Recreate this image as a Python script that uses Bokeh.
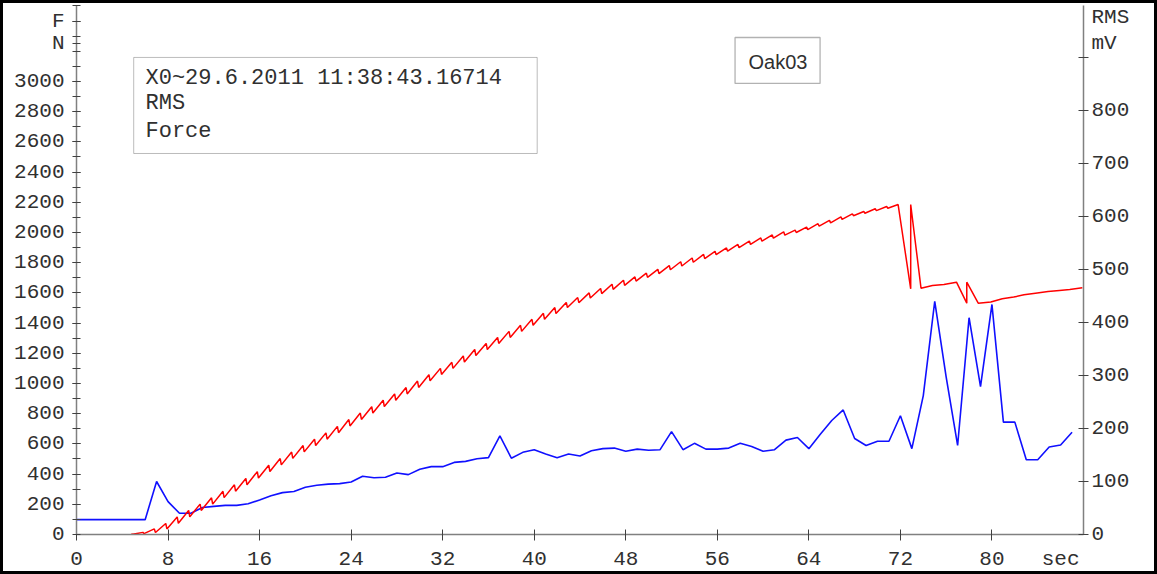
from bokeh.plotting import figure
from bokeh.models import Range1d, LinearAxis, FixedTicker, Label, BoxAnnotation
from bokeh.embed import file_html
from bokeh.resources import INLINE

# ---------------- data ----------------
x_ticks = [0, 8, 16, 24, 32, 40, 48, 56, 64, 72, 80]
force_ticks = list(range(0, 3001, 200))
rms_ticks = [0, 100, 200, 300, 400, 500, 600, 700, 800]

# RMS (mV), one sample per second, t = 0 .. 87
rms_mv = [28, 28, 28, 28, 28, 28, 28, 100, 62, 40,
          40, 51, 53, 55, 55, 58, 65, 73, 79, 81,
          89, 93, 95, 96, 99, 110, 107, 108, 116, 113,
          123, 128, 128, 136, 138, 143, 145, 186, 144, 155,
          160, 152, 145, 152, 148, 158, 162, 163, 157, 161,
          159, 160, 194, 160, 172, 161, 161, 163, 172, 166,
          157, 160, 178, 183, 162, 189, 215, 235, 181, 168,
          176, 176, 224, 162, 262, 440, 297, 168, 409, 279,
          434, 212, 212, 141, 141, 165, 169, 193]
rms_t = list(range(len(rms_mv)))

# Force (N): saw-tooth part, one tooth per second (seconds 5 .. 72)
saw_sec = list(range(5, 73))
force_peak = [5, 14, 37, 73, 116, 159, 201, 243, 286, 329,
              371, 416, 459, 503, 546, 589, 631, 673, 716, 761,
              804, 846, 889, 931, 973, 1016, 1058, 1100, 1140, 1182,
              1225, 1265, 1305, 1345, 1385, 1425, 1465, 1503, 1537, 1569,
              1600, 1629, 1657, 1684, 1706, 1731, 1756, 1781, 1806, 1831,
              1855, 1875, 1898, 1921, 1943, 1964, 1984, 2004, 2016, 2035,
              2058, 2080, 2103, 2123, 2139, 2157, 2172, 2185]
force_trough = [1, 6, 13, 37, 74, 117, 159, 201, 244, 287,
                329, 374, 417, 461, 504, 547, 589, 631, 674, 719,
                762, 804, 847, 889, 931, 974, 1018, 1060, 1100, 1142,
                1185, 1225, 1265, 1305, 1345, 1385, 1425, 1463, 1503, 1535,
                1566, 1595, 1623, 1650, 1678, 1703, 1728, 1753, 1778, 1803,
                1827, 1853, 1876, 1899, 1921, 1942, 1962, 1982, 2000, 2019,
                2042, 2064, 2087, 2111, 2127, 2145, 2160]
# Force (N): after the break
tail_t = [72.9, 72.9, 73.8, 74.8, 75.8, 76.9, 77.8, 77.8, 78.8, 79.9,
          80.9, 81.9, 82.8, 83.8, 84.9, 85.9, 86.8, 87.9]
tail_v = [1627, 2185, 1631, 1649, 1656, 1671, 1532, 1671, 1532, 1539,
          1561, 1572, 1587, 1598, 1609, 1616, 1622, 1634]

force_t, force_v = [], []
for i, k in enumerate(saw_sec):
    force_t.append(k - 0.2)
    force_v.append(force_peak[i])
    if i < len(force_trough):
        force_t.append(k - 0.1)
        force_v.append(force_trough[i])
force_t += tail_t
force_v += tail_v

# ---------------- figure ----------------
MONO = "Liberation Mono"
TXT = "#303030"
AXC = "#808080"
TICKC = "#404040"

p = figure(width=1157, height=574, output_backend="svg", toolbar_location=None,
           x_range=Range1d(0, 88), y_range=Range1d(0, 3503),
           min_border_left=76, min_border_right=74, min_border_top=5,
           min_border_bottom=40)
p.outline_line_color = None
p.grid.visible = False
p.background_fill_color = "white"
p.border_fill_color = None
p.styles = {"outline": "3px solid black", "outline-offset": "-3px",
            "outlineOffset": "-3px", "box-shadow": "inset 0 0 0 3px black",
            "boxShadow": "inset 0 0 0 3px black", "background": "white"}

p.extra_y_ranges = {"rms": Range1d(0, 998)}

def style_axis(ax, tout, standoff, size="21px"):
    ax.axis_line_color = AXC
    ax.axis_line_width = 1.5
    ax.major_tick_line_color = TICKC
    ax.minor_tick_line_color = TICKC
    ax.major_tick_out = tout
    ax.major_label_text_font = MONO
    ax.major_label_text_font_size = size
    ax.major_label_text_color = TXT
    ax.major_label_standoff = standoff

# bottom axis: labels from major ticks (marks hidden), marks from minor ticks
xa = p.xaxis[0]
xa.ticker = FixedTicker(ticks=x_ticks + [86], minor_ticks=x_ticks)
xa.major_label_overrides = {86: "sec"}
style_axis(xa, 6, 7)
xa.major_tick_line_color = None
xa.major_tick_in = 0
xa.minor_tick_in = 5
xa.minor_tick_out = 6

# left axis: force, with unit letters as labels
ya = p.yaxis[0]
ya.ticker = FixedTicker(ticks=force_ticks + [3250, 3400],
                        minor_ticks=list(range(100, 3600, 100)))
ya.major_label_overrides = {3250: "N", 3400: "F"}
style_axis(ya, 4, 8)
ya.major_tick_in = 4
ya.minor_tick_in = 4
ya.minor_tick_out = 4

# right axis: RMS labels from major ticks (marks hidden), marks from minor ticks
ra = LinearAxis(y_range_name="rms",
                ticker=FixedTicker(ticks=rms_ticks + [926.4, 975.5],
                                   minor_ticks=rms_ticks + [900]),
                major_label_overrides={926.4: "mV", 975.5: "RMS"})
style_axis(ra, 5, 3)
ra.major_tick_line_color = None
ra.major_tick_in = 0
ra.minor_tick_in = 5
ra.minor_tick_out = 5
p.add_layout(ra, "right")

# data lines
p.line(rms_t, rms_mv, y_range_name="rms", line_color="#1010ff", line_width=1.6)
p.line(force_t, force_v, line_color="#ff0000", line_width=1.5)

def lab(x, y, t, align="left", font=MONO, size="22px"):
    p.add_layout(Label(x=x, y=y, text=t, text_align=align, text_baseline="middle",
                       text_font=font, text_font_size=size, text_color=TXT))

# legend box
p.add_layout(BoxAnnotation(left=5.0, right=40.26, top=3159, bottom=2523,
                           fill_color="white", fill_alpha=1.0,
                           line_color="#202020", line_width=1.0, level="annotation"))
lab(6.03, 3020, "X0~29.6.2011 11:38:43.16714")
lab(6.03, 2854, "RMS")
lab(6.03, 2669, "Force")
p.segment(x0=[34.4], y0=[2841], x1=[39.4], y1=[2841], line_color="#1010ff", line_width=1.6)
p.segment(x0=[34.4], y0=[2669], x1=[39.4], y1=[2669], line_color="#ff0000", line_width=1.5)

# title box
p.add_layout(BoxAnnotation(left=57.55, right=64.98, top=3291, bottom=2987,
                           fill_color="white", fill_alpha=1.0,
                           line_color="black", line_width=1.3, level="annotation"))
lab(61.3, 3132, "Oak03", align="center", font="Liberation Sans", size="20px")

open("out.html", "w").write(file_html(p, INLINE))
